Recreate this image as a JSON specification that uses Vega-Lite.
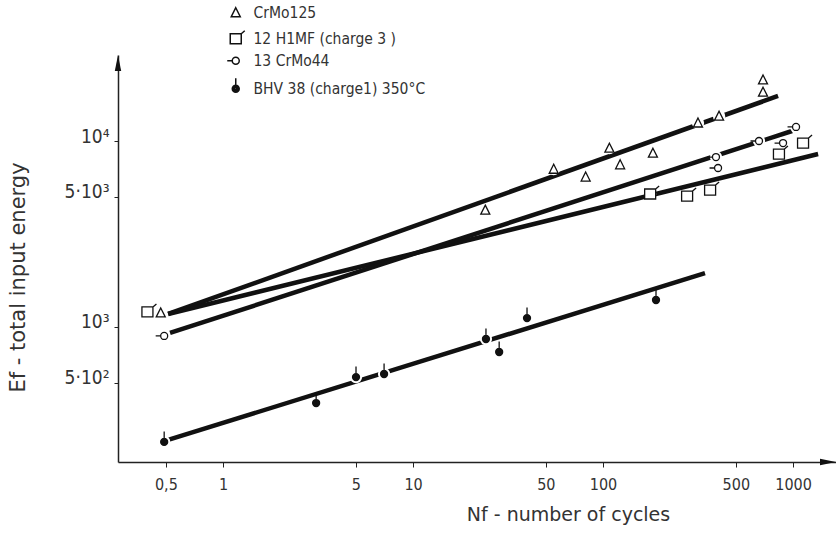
{
  "$schema": "https://vega.github.io/schema/vega-lite/v6.json",
  "width": 718,
  "height": 407,
  "autosize": {"type": "none"},
  "padding": {"left": 118, "top": 55, "right": 0, "bottom": 71},
  "background": "white",
  "config": {
    "view": {"stroke": null},
    "font": "Liberation Sans Narrow, DejaVu Sans Condensed, DejaVu Sans"
  },
  "datasets": {
    "points": [
      {"series": "CrMo125", "N": 0.47, "E": 1190},
      {"series": "CrMo125", "N": 24, "E": 4250},
      {"series": "CrMo125", "N": 55, "E": 7050},
      {"series": "CrMo125", "N": 81, "E": 6400},
      {"series": "CrMo125", "N": 108, "E": 9150},
      {"series": "CrMo125", "N": 123, "E": 7450},
      {"series": "CrMo125", "N": 183, "E": 8600},
      {"series": "CrMo125", "N": 316, "E": 12500},
      {"series": "CrMo125", "N": 408, "E": 13600},
      {"series": "CrMo125", "N": 695, "E": 21300},
      {"series": "CrMo125", "N": 695, "E": 18300},
      {"series": "12 H1MF (charge 3 )", "N": 0.40, "E": 1205},
      {"series": "12 H1MF (charge 3 )", "N": 177, "E": 5190},
      {"series": "12 H1MF (charge 3 )", "N": 277, "E": 5060},
      {"series": "12 H1MF (charge 3 )", "N": 366, "E": 5450},
      {"series": "12 H1MF (charge 3 )", "N": 843, "E": 8510},
      {"series": "12 H1MF (charge 3 )", "N": 1129, "E": 9750},
      {"series": "13 CrMo44", "N": 0.49, "E": 895},
      {"series": "13 CrMo44", "N": 393, "E": 8200},
      {"series": "13 CrMo44", "N": 403, "E": 7160},
      {"series": "13 CrMo44", "N": 662, "E": 10000},
      {"series": "13 CrMo44", "N": 886, "E": 9750},
      {"series": "13 CrMo44", "N": 1037, "E": 11900},
      {"series": "BHV 38 (charge1) 350°C", "N": 0.49, "E": 241},
      {"series": "BHV 38 (charge1) 350°C", "N": 3.09, "E": 390},
      {"series": "BHV 38 (charge1) 350°C", "N": 5.01, "E": 538},
      {"series": "BHV 38 (charge1) 350°C", "N": 7.04, "E": 559},
      {"series": "BHV 38 (charge1) 350°C", "N": 24.2, "E": 862},
      {"series": "BHV 38 (charge1) 350°C", "N": 28.4, "E": 734},
      {"series": "BHV 38 (charge1) 350°C", "N": 39.8, "E": 1117},
      {"series": "BHV 38 (charge1) 350°C", "N": 190, "E": 1397}
    ],
    "fits": [
      {"series": "CrMo125", "N": 0.514, "E": 1175},
      {"series": "CrMo125", "N": 834, "E": 17460},
      {"series": "12 H1MF (charge 3 )", "N": 0.514, "E": 1175},
      {"series": "12 H1MF (charge 3 )", "N": 1355, "E": 8510},
      {"series": "13 CrMo44", "N": 0.526, "E": 929},
      {"series": "13 CrMo44", "N": 988, "E": 11320},
      {"series": "BHV 38 (charge1) 350°C", "N": 0.514, "E": 247},
      {"series": "BHV 38 (charge1) 350°C", "N": 344, "E": 1950}
    ]
  },
  "encoding": {
    "x": {"field": "N", "type": "quantitative", "scale": {"type": "log", "domain": [0.28, 1683], "nice": false, "zero": false}},
    "y": {"field": "E", "type": "quantitative", "scale": {"type": "log", "domain": [188, 29000], "nice": false, "zero": false}}
  },
  "layer": [
    {
      "data": {"name": "fits"},
      "mark": {"type": "line", "color": "#111", "strokeWidth": 4.5, "strokeCap": "butt"},
      "encoding": {
        "x": {"field": "N", "type": "quantitative", "scale": {"type": "log", "domain": [0.28, 1683], "nice": false, "zero": false},
          "axis": {
            "values": [0.5, 1, 5, 10, 50, 100, 500, 1000],
            "labelExpr": "datum.value == 0.5 ? '0,5' : format(datum.value, 'd')",
            "labelFontSize": 16, "labelColor": "#333", "labelPadding": 9, "labelOverlap": false, "labelFlush": false,
            "tickSize": 5, "tickColor": "#222", "domainColor": "#222", "domainWidth": 1.5, "grid": false,
            "title": "Nf - number of cycles", "titleFont": "DejaVu Sans", "titleFontSize": 19, "titleFontWeight": "normal", "titleColor": "#333",
            "titleX": 450, "titleY": 52, "titleAlign": "center", "titleBaseline": "middle"
          }},
        "y": {"field": "E", "type": "quantitative", "scale": {"type": "log", "domain": [188, 29000], "nice": false, "zero": false},
          "axis": {
            "values": [500, 1000, 5000, 10000],
            "labelExpr": "datum.value == 500 ? '5·10²' : datum.value == 1000 ? '10³' : datum.value == 5000 ? '5·10³' : '10⁴'",
            "labelFontSize": 19, "labelColor": "#333", "labelPadding": 5, "labelOffset": -5, "labelOverlap": false, "labelFlush": false,
            "tickSize": 4, "tickColor": "#222", "domainColor": "#222", "domainWidth": 1.5, "grid": false,
            "title": "Ef - total input energy", "titleFont": "DejaVu Sans", "titleFontSize": 21, "titleFontWeight": "normal", "titleColor": "#333",
            "titleX": -100, "titleY": 222, "titleAngle": -90, "titleAlign": "center", "titleBaseline": "middle"
          }},
        "detail": {"field": "series"}
      }
    },
    {
      "data": {"name": "points"},
      "mark": {"type": "point", "shape": "circle", "filled": true, "fill": "white", "opacity": 1, "size": 150, "strokeWidth": 0}
    },
    {
      "data": {"name": "points"},
      "mark": {"type": "point", "filled": false, "stroke": "#111", "strokeWidth": 1.3, "size": 100, "opacity": 1},
      "encoding": {
        "fill": {"condition": {"test": "datum.series == 'BHV 38 (charge1) 350°C'", "value": "#111"}, "value": "white"},
        "shape": {
          "field": "series", "type": "nominal",
          "scale": {
            "domain": ["CrMo125", "12 H1MF (charge 3 )", "13 CrMo44", "BHV 38 (charge1) 350°C"],
            "range": [
              "M0,-1L0.9,0.8L-0.9,0.8Z",
              "M-1.1,-1L1.1,-1L1.1,1L-1.1,1Z M1.1,-1L1.8,-1.6",
              "M0.7,0A0.7,0.7 0 1,1 -0.7,0A0.7,0.7 0 1,1 0.7,0Z M-0.7,0L-1.7,0",
              "M0.7,0A0.7,0.7 0 1,1 -0.7,0A0.7,0.7 0 1,1 0.7,0Z M0.45,0A0.45,0.45 0 1,1 -0.45,0A0.45,0.45 0 1,1 0.45,0Z M0.2,0A0.2,0.2 0 1,1 -0.2,0A0.2,0.2 0 1,1 0.2,0Z M0.05,0A0.05,0.05 0 1,1 -0.05,0A0.05,0.05 0 1,1 0.05,0Z M0,-0.7L0,-2.1"
            ]
          },
          "legend": {
            "orient": "none", "legendX": 110, "legendY": -50, "title": null,
            "labelFontSize": 15.5, "labelColor": "#333", "labelLimit": 400,
            "symbolSize": 100,
            "rowPadding": 5, "labelOffset": 10, "padding": 0,
            "symbolType": "circle",
            "encode": {"symbols": {
              "enter": {"shape": {"value": "circle"}},
              "update": {
                "size": {"value": 100},
                "stroke": {"value": "#111"},
                "strokeWidth": {"value": 1.3},
                "opacity": {"value": 1},
                "fill": {"value": "white"}
              }}}
          }
        }
      }
    },
    {
      "data": {"values": [{"N": 1683, "E": 188}]},
      "mark": {"type": "point", "shape": "M0,0L-1,-0.2L-1,0.2Z", "size": 1024, "filled": true, "fill": "#111", "strokeWidth": 0, "opacity": 1}
    },
    {
      "data": {"values": [{"N": 0.28, "E": 29000}]},
      "mark": {"type": "point", "shape": "M0,0L-0.2,1L0.2,1Z", "size": 1024, "filled": true, "fill": "#111", "strokeWidth": 0, "opacity": 1}
    }
  ]
}
